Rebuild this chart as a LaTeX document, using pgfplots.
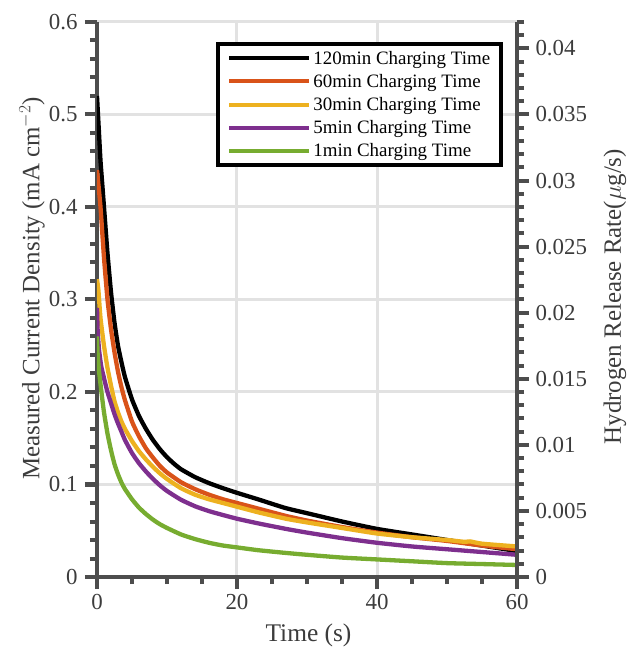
\documentclass[border=0pt]{standalone}
\usepackage{pgfplots}
\pgfplotsset{compat=1.18}
\usepackage{fontspec}
\setmainfont{Liberation Serif}
\definecolor{axgray}{HTML}{4D4D4D}
\definecolor{txtgray}{HTML}{3C3C3C}
\definecolor{gridgray}{HTML}{E2E2E2}
\definecolor{c120}{HTML}{000000}
\definecolor{c60}{HTML}{D95319}
\definecolor{c30}{HTML}{EDB120}
\definecolor{c5}{HTML}{7E2F8E}
\definecolor{c1}{HTML}{77AC30}
\begin{document}
\begin{tikzpicture}
\pgfplotsset{
  common/.style={
    scale only axis, width=420bp, height=555bp,
    xmin=0, xmax=60,
    tick align=outside,
    axis line style={draw=axgray, line width=4bp},
    major tick style={draw=axgray, line width=4bp},
    minor tick style={draw=axgray, line width=4bp},
    major tick length=12bp, minor tick length=7bp,
    tick label style={font=\fontsize{23}{26}\selectfont, text=txtgray},
    /pgf/number format/assume math mode=true,
  }
}
\begin{axis}[common,
  at={(0,0)}, anchor=south west,
  axis x line*=bottom, axis y line*=left,
  ymin=0, ymax=0.6,
  xtick={0,20,40,60}, minor xtick={5,10,15,25,30,35,45,50,55},
  ytick={0,0.1,...,0.6}, minor ytick={0.02,0.04,...,0.58},
  yticklabel style={/pgf/number format/fixed, /pgf/number format/precision=1, xshift=-4bp},
  xticklabel style={yshift=-2bp},
  scaled y ticks=false,
  xmajorgrids, ymajorgrids,
  major grid style={draw=gridgray, line width=3bp},
  xlabel={Time (s)},
  ylabel={Measured Current Density (mA cm$^{-2}$)},
  every axis y label/.style={at={(axis description cs:-0.155,0.52)}, rotate=90, anchor=center,
    font=\fontsize{25}{28}\selectfont, text=txtgray},
  every axis x label/.style={at={(axis description cs:0.5036,-0.1045)}, anchor=center,
    font=\fontsize{25.5}{28}\selectfont, text=txtgray},
  legend style={at={(0.967,0.964)}, anchor=north east, draw=black, line width=4bp,
    font=\fontsize{19}{21}\selectfont, inner xsep=9bp, inner ysep=5bp,
    row sep=4.5bp, cells={anchor=west}},
  legend image code/.code={\draw[#1, line width=4bp] (0bp,0bp) -- (80bp,0bp);},
  every axis plot/.append style={line width=4.3bp, line join=round, smooth, tension=0.3},
]
\addplot[c120] coordinates {(0,0.52)(0.25,0.485)(0.5,0.45)(0.75,0.425)(1,0.40)(1.5,0.35)(2,0.308)(2.5,0.275)(3,0.25)(3.5,0.232)(4,0.216)(5,0.192)(6,0.174)(7,0.160)(8,0.148)(9,0.138)(10,0.1295)(11,0.1225)(12,0.1165)(14,0.108)(16,0.1015)(18,0.096)(20,0.091)(23,0.084)(26.9,0.0746)(30,0.069)(35,0.060)(40,0.052)(45,0.046)(50,0.040)(55,0.034)(60,0.028)};
\addlegendentry{120min Charging Time}
\addplot[c60] coordinates {(0,0.44)(0.5,0.40)(1,0.345)(1.5,0.30)(2,0.268)(2.5,0.243)(3,0.222)(3.5,0.205)(4,0.191)(5,0.168)(6,0.152)(7,0.139)(8,0.129)(9,0.120)(10,0.113)(12,0.1025)(14,0.095)(16,0.089)(18,0.084)(20,0.080)(23,0.074)(27,0.066)(30,0.061)(35,0.054)(40,0.048)(45,0.043)(50,0.039)(55,0.034)(60,0.030)};
\addlegendentry{60min Charging Time}
\addplot[c30] coordinates {(0,0.322)(0.2,0.31)(0.5,0.28)(1,0.25)(1.5,0.226)(2,0.207)(2.5,0.19)(3,0.178)(3.5,0.168)(4,0.16)(5,0.147)(6,0.136)(7,0.127)(8,0.119)(9,0.112)(10,0.106)(12,0.096)(14,0.089)(16,0.084)(18,0.080)(20,0.076)(23,0.070)(27,0.063)(30,0.059)(35,0.053)(40,0.047)(45,0.043)(50,0.040)(52.5,0.038)(53.3,0.0385)(55,0.036)(60,0.033)};
\addlegendentry{30min Charging Time}
\addplot[c5] coordinates {(0,0.291)(0.1,0.265)(0.3,0.245)(0.6,0.228)(1,0.215)(1.5,0.20)(2,0.188)(2.5,0.176)(3,0.166)(3.5,0.157)(4,0.148)(5,0.134)(6,0.123)(7,0.114)(8,0.106)(9,0.099)(10,0.093)(12,0.0835)(14,0.0765)(16,0.0712)(18,0.067)(20,0.063)(23,0.058)(27,0.052)(30,0.048)(35,0.042)(40,0.037)(45,0.033)(50,0.030)(55,0.027)(60,0.024)};
\addlegendentry{5min Charging Time}
\addplot[c1] coordinates {(0,0.26)(0.1,0.24)(0.3,0.222)(0.6,0.202)(1,0.178)(1.5,0.155)(2,0.137)(2.5,0.122)(3,0.111)(3.5,0.102)(4,0.095)(5,0.084)(6,0.075)(7,0.068)(8,0.062)(9,0.057)(10,0.053)(12,0.046)(14,0.041)(16,0.037)(18,0.034)(20,0.032)(23,0.029)(27,0.026)(30,0.024)(35,0.021)(40,0.019)(45,0.017)(50,0.015)(55,0.014)(60,0.013)};
\addlegendentry{1min Charging Time}
\end{axis}
\begin{axis}[common,
  at={(0,0)}, anchor=south west,
  axis x line=none, axis y line*=right,
  ymin=0, ymax=0.042,
  ytick={0,0.005,...,0.04},
  minor ytick={0.001,0.002,...,0.042},
  yticklabel style={/pgf/number format/fixed, /pgf/number format/precision=3, xshift=3bp},
  scaled y ticks=false,
  ylabel={Hydrogen Release Rate($\mu$g/s)},
  every axis y label/.style={at={(axis description cs:1.233,0.505)}, rotate=90, anchor=center,
    font=\fontsize{25}{28}\selectfont, text=txtgray},
]
\end{axis}
\pgfresetboundingbox
\path[use as bounding box] (-97bp,-75bp) rectangle (533bp,577bp);
\end{tikzpicture}
\end{document}
